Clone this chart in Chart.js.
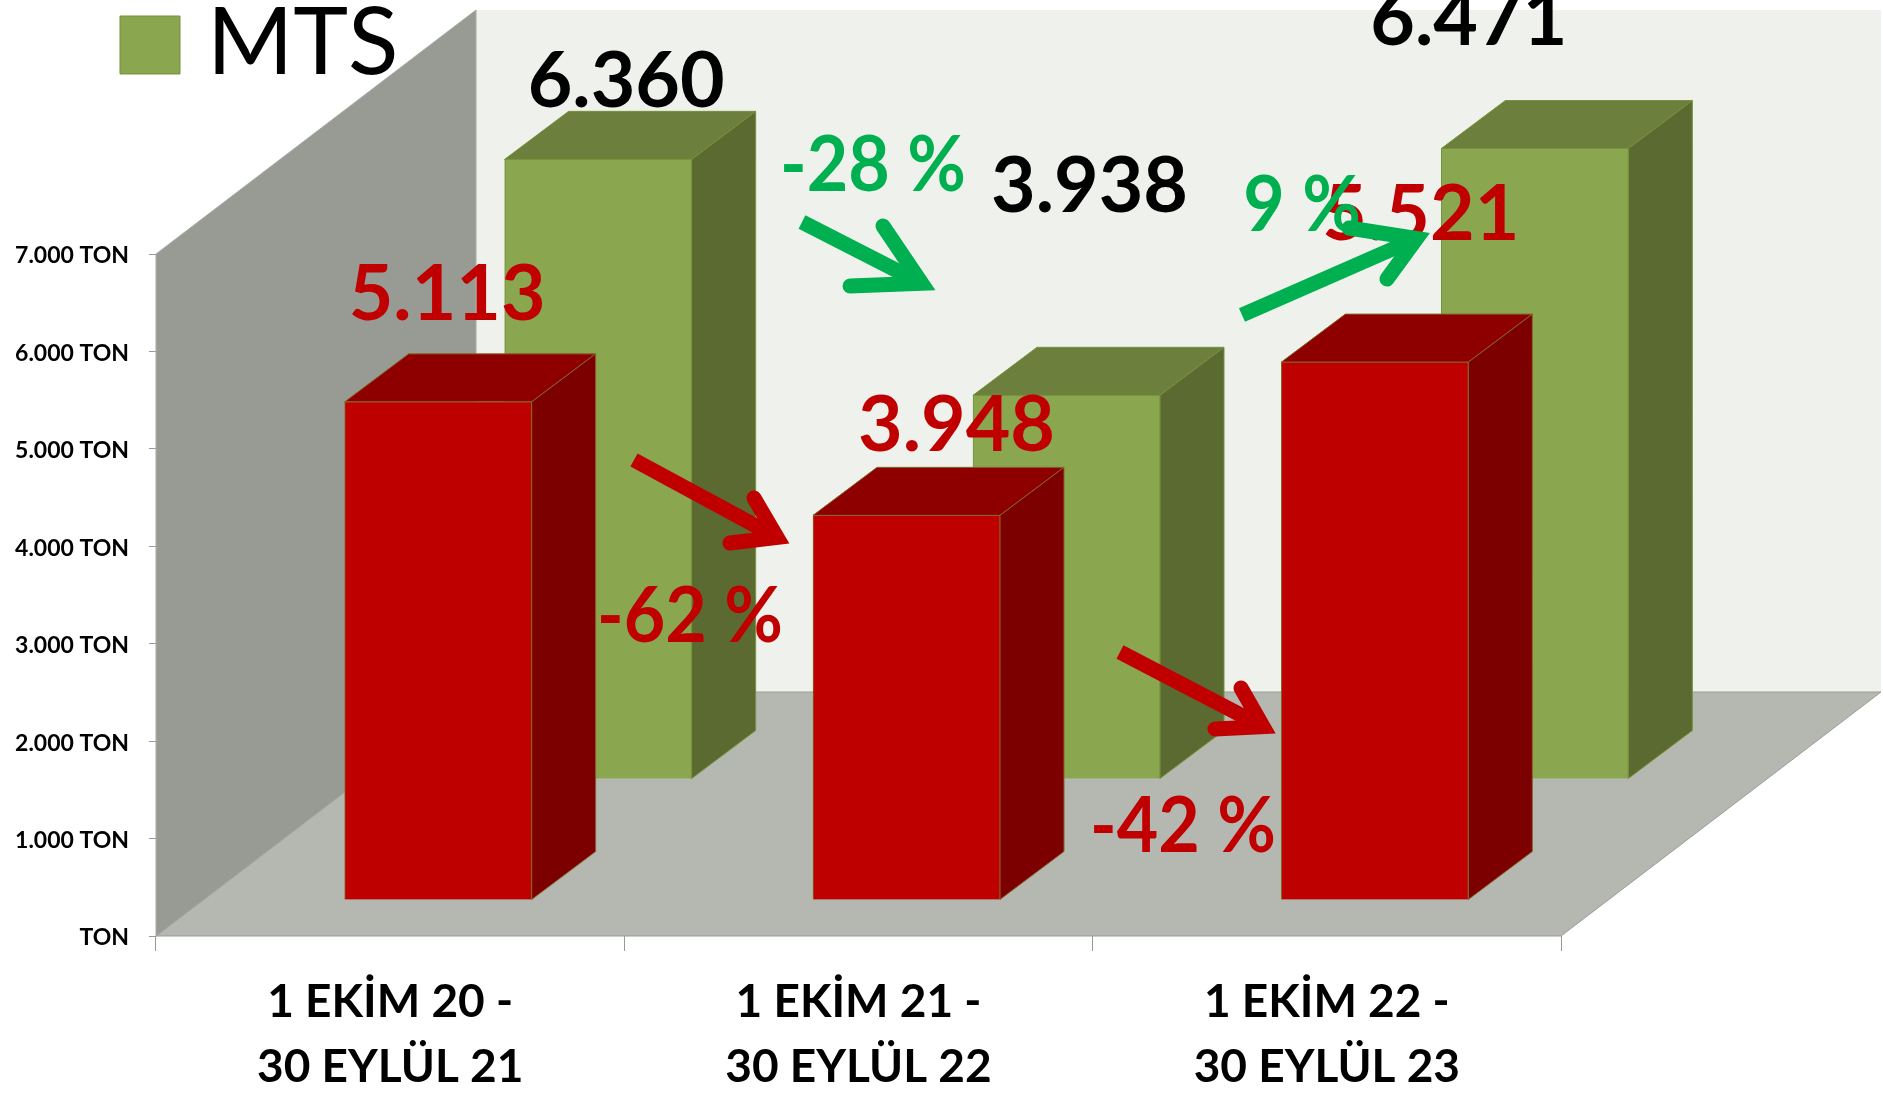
<!DOCTYPE html>
<html>
<head>
<meta charset="utf-8">
<style>
  html, body { margin: 0; background: #fff; }
  canvas { display: block; }
</style>
</head>
<body>
<canvas id="chart" width="1883" height="1095"></canvas>
<script src="https://cdn.jsdelivr.net/npm/chart.js@4"></script>
<script>
const categories = [["1 EKİM 20 -", "30 EYLÜL 21"], ["1 EKİM 21 -", "30 EYLÜL 22"], ["1 EKİM 22 -", "30 EYLÜL 23"]];
const frontValues = [5113, 3948, 5521];
const mtsValues = [6360, 3938, 6471];
const yTickLabels = ["TON", "1.000 TON", "2.000 TON", "3.000 TON", "4.000 TON", "5.000 TON", "6.000 TON", "7.000 TON"];
const frontLabels = ["5.113", "3.948", "5.521"];
const mtsLabels = ["6.360", "3.938", "6.471"];

const FONT = "Lato, Carlito, sans-serif";

// kutu derinligi ve serilerin zemindeki kaymasi
const BOX_DX = 64, BOX_DY = -48;
const ROOM_DX = 320, ROOM_DY = -244;

function poly(ctx, pts, fill, stroke) {
  ctx.beginPath();
  pts.forEach((p, i) => i ? ctx.lineTo(p[0], p[1]) : ctx.moveTo(p[0], p[1]));
  ctx.closePath();
  ctx.fillStyle = fill;
  ctx.fill();
  if (stroke) {
    ctx.strokeStyle = stroke;
    ctx.lineWidth = 1;
    ctx.stroke();
  }
}

function text(ctx, str, x, y, size, color, squeeze) {
  ctx.save();
  ctx.translate(x, y);
  ctx.scale(squeeze || 1, 1);
  ctx.font = "bold " + size + "px " + FONT;
  ctx.fillStyle = color;
  ctx.textAlign = "center";
  ctx.textBaseline = "alphabetic";
  ctx.fillText(str, 0, 0);
  ctx.restore();
}

function arrow(ctx, color, from, tip, wing1, wing2) {
  const bendX = (tip[0] * 9 + from[0]) / 10, bendY = (tip[1] * 9 + from[1]) / 10;
  ctx.strokeStyle = color;
  ctx.lineWidth = 15;
  ctx.lineCap = "butt";
  ctx.beginPath();
  ctx.moveTo(from[0], from[1]);
  ctx.lineTo(bendX, bendY);
  ctx.stroke();
  ctx.lineCap = "round";
  ctx.lineJoin = "miter";
  ctx.miterLimit = 10;
  ctx.beginPath();
  ctx.moveTo(wing1[0], wing1[1]);
  ctx.lineTo(bendX, bendY);
  ctx.lineTo(wing2[0], wing2[1]);
  ctx.stroke();
}

// Oda: sol duvar, arka duvar, zemin
const room = {
  id: "room",
  beforeDatasetsDraw(chart) {
    const { ctx, chartArea: a } = chart;
    ctx.save();
    poly(ctx, [[a.left + ROOM_DX, a.top + ROOM_DY], [a.right + ROOM_DX, a.top + ROOM_DY], [a.right + ROOM_DX, a.bottom + ROOM_DY], [a.left + ROOM_DX, a.bottom + ROOM_DY]], "#eff2ec");
    poly(ctx, [[a.left, a.top], [a.left + ROOM_DX, a.top + ROOM_DY], [a.left + ROOM_DX, a.bottom + ROOM_DY], [a.left, a.bottom]], "#989b93", "#a9aba5");
    poly(ctx, [[a.left, a.bottom], [a.left + ROOM_DX, a.bottom + ROOM_DY], [a.right + ROOM_DX, a.bottom + ROOM_DY], [a.right, a.bottom]], "#b5b8b0", "#9a9c96");
    ctx.restore();
  }
};

// Ust ve yan yuzler; on yuz Chart.js'in kendi cubugu
const box3d = {
  id: "box3d",
  beforeDatasetDraw(chart, args) {
    const { ctx } = chart;
    const ds = chart.data.datasets[args.index];
    ctx.save();
    ctx.translate(ds.shiftX, ds.shiftY);
    args.meta.data.forEach(el => {
      const p = el.getProps(["x", "y", "base", "width"], true);
      const l = p.x - p.width / 2, r = p.x + p.width / 2;
      poly(ctx, [[l, p.y], [l + BOX_DX, p.y + BOX_DY], [r + BOX_DX, p.y + BOX_DY], [r, p.y]], ds.topColor, ds.borderColor);
      poly(ctx, [[r, p.y], [r + BOX_DX, p.y + BOX_DY], [r + BOX_DX, p.base + BOX_DY], [r, p.base]], ds.sideColor, ds.borderColor);
    });
  },
  afterDatasetDraw(chart) {
    chart.ctx.restore();
  }
};

// Deger etiketleri, yuzdeler, oklar, lejant
const notes = {
  id: "notes",
  afterDatasetsDraw(chart) {
    const { ctx } = chart;
    ctx.save();

    const green = chart.data.datasets[1];
    poly(ctx, [[120, 16], [180, 16], [180, 74], [120, 74]], green.backgroundColor, green.borderColor);
    ctx.font = "93px " + FONT;
    ctx.fillStyle = "#000";
    ctx.textAlign = "left";
    ctx.textBaseline = "alphabetic";
    ctx.fillText(green.label, 207, 74);

    const mtsNudge = [[28, -52], [23, -183], [-66, -104]];
    const frontNudge = [[9, -82], [50, -64], [46, -122]];
    chart.getDatasetMeta(1).data.forEach((el, i) => {
      text(ctx, mtsLabels[i], el.x + green.shiftX + mtsNudge[i][0], el.y + green.shiftY + mtsNudge[i][1], 77, "#000");
    });
    const red = chart.data.datasets[0];
    chart.getDatasetMeta(0).data.forEach((el, i) => {
      text(ctx, frontLabels[i], el.x + red.shiftX + frontNudge[i][0], el.y + red.shiftY + frontNudge[i][1], 77, "#c00000");
    });

    text(ctx, "-62 %", 690, 642, 77, "#c00000", 0.93);
    text(ctx, "-42 %", 1183, 852, 77, "#c00000", 0.93);
    text(ctx, "-28 %", 873, 191, 77, "#00b050", 0.93);
    text(ctx, "9 %", 1302, 231, 77, "#00b050", 0.93);

    arrow(ctx, "#c00000", [634, 460], [793, 546], [754, 498], [730, 543]);
    arrow(ctx, "#c00000", [1120, 652], [1279, 735], [1241, 688], [1215, 729]);
    arrow(ctx, "#00b050", [802, 222], [935, 290], [883, 226], [850, 286]);
    arrow(ctx, "#00b050", [1242, 315], [1436, 230], [1349, 228], [1387, 279]);

    ctx.restore();
  }
};

new Chart(document.getElementById("chart"), {
  type: "bar",
  data: {
    labels: categories,
    datasets: [
      {
        label: "",
        data: frontValues,
        backgroundColor: "#bf0000",
        borderColor: "#86642a",
        topColor: "#8e0000",
        sideColor: "#7d0000",
        shiftX: 48,
        shiftY: -36
      },
      {
        label: "MTS",
        data: mtsValues,
        backgroundColor: "#8aa64e",
        borderColor: "#75923c",
        topColor: "#6d7f3c",
        sideColor: "#5a6a31",
        shiftX: 208,
        shiftY: -157
      }
    ]
  },
  plugins: [room, box3d, notes],
  options: {
    responsive: false,
    animation: false,
    layout: { padding: { top: 254, right: 322 } },
    datasets: {
      bar: { grouped: false, barThickness: 187, borderWidth: 1, clip: false }
    },
    plugins: {
      legend: { display: false },
      tooltip: { enabled: false }
    },
    scales: {
      x: {
        afterFit(s) { s.height = 159; },
        border: { display: false },
        grid: { drawOnChartArea: false, color: "#999", tickLength: 15, offset: true },
        ticks: {
          color: "#000",
          padding: 19,
          maxRotation: 0,
          font: { family: FONT, size: 46, weight: "bold", lineHeight: 1.41 }
        }
      },
      y: {
        min: 0,
        max: 7000,
        afterFit(s) { s.width = 156; },
        border: { display: false },
        grid: { drawOnChartArea: false, color: "#999", tickLength: 7 },
        ticks: {
          stepSize: 1000,
          color: "#000",
          padding: 20,
          autoSkip: false,
          labelOffset: 2,
          font: { family: FONT, size: 23, weight: "bold" },
          callback: (v, i) => yTickLabels[i]
        }
      }
    }
  }
});
</script>
</body>
</html>
